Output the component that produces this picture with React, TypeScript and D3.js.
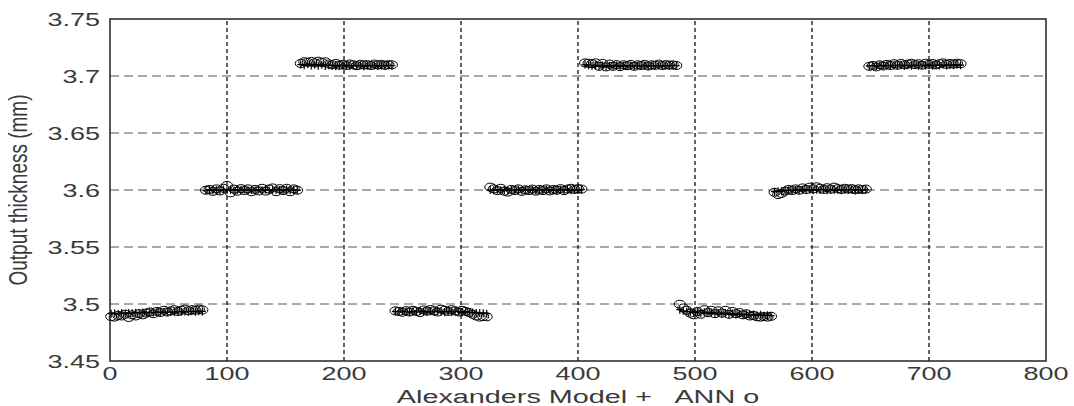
import React from 'react'
import * as d3 from 'd3'

// tick values
const xTicks = [0, 100, 200, 300, 400, 500, 600, 700, 800]
const yTicks = [3.45, 3.5, 3.55, 3.6, 3.65, 3.7, 3.75]

const blockStarts = [1, 82, 163, 244, 325, 406, 487, 568, 649]
const sampleOffsets = [0, 3, 6, 9, 12, 15, 18, 21, 24, 27, 30, 33, 36, 39, 42, 45, 48, 51, 54, 57, 60, 63, 66, 69, 72, 75, 78]

const modelB1 = [3.4915, 3.4918, 3.4912, 3.492, 3.4917, 3.4922, 3.4919, 3.4924, 3.4921, 3.4925, 3.4923, 3.4927, 3.4925, 3.4929, 3.4926, 3.493, 3.4928, 3.4932, 3.4929, 3.4933, 3.4931, 3.4934, 3.4932, 3.4936, 3.4933, 3.4937, 3.4935]
const annB1 = [3.489, 3.4885, 3.49, 3.4895, 3.491, 3.4882, 3.4905, 3.4895, 3.4915, 3.4905, 3.492, 3.493, 3.4915, 3.4935, 3.4925, 3.4945, 3.493, 3.494, 3.495, 3.4935, 3.4945, 3.4955, 3.494, 3.495, 3.4945, 3.4955, 3.4948]
const modelB2 = [3.5995, 3.6003, 3.5997, 3.6001, 3.5994, 3.6004, 3.5998, 3.6002, 3.5996, 3.6003, 3.5999, 3.6005, 3.5997, 3.6001, 3.5995, 3.6004, 3.5998, 3.6002, 3.5996, 3.6003, 3.5999, 3.6001, 3.5995, 3.6004, 3.5998, 3.6002, 3.5997]
const annB2 = [3.5998, 3.6005, 3.5988, 3.601, 3.5992, 3.6015, 3.604, 3.5975, 3.6008, 3.599, 3.6012, 3.5995, 3.601, 3.5985, 3.6005, 3.5992, 3.6015, 3.599, 3.6008, 3.6018, 3.5985, 3.6012, 3.5995, 3.6015, 3.5985, 3.601, 3.5998]
const modelB3 = [3.71, 3.7095, 3.7105, 3.7092, 3.71, 3.709, 3.7098, 3.7088, 3.7095, 3.709, 3.7086, 3.7093, 3.7089, 3.7095, 3.7087, 3.7092, 3.7088, 3.7094, 3.7086, 3.7091, 3.7089, 3.7093, 3.7087, 3.7092, 3.7088, 3.7094, 3.709]
const annB3 = [3.711, 3.7125, 3.712, 3.7128, 3.7115, 3.713, 3.7118, 3.7125, 3.7105, 3.7098, 3.711, 3.7095, 3.7102, 3.7092, 3.7105, 3.7098, 3.709, 3.7103, 3.7096, 3.71, 3.7092, 3.7105, 3.7097, 3.7102, 3.7094, 3.71, 3.7098]
const modelB4 = [3.4935, 3.493, 3.4937, 3.4932, 3.4928, 3.4935, 3.493, 3.4938, 3.4933, 3.4929, 3.4936, 3.4931, 3.4938, 3.4933, 3.4928, 3.4935, 3.493, 3.4937, 3.4932, 3.4927, 3.4933, 3.4928, 3.4925, 3.4922, 3.492, 3.4918, 3.4915]
const annB4 = [3.494, 3.4935, 3.4928, 3.4942, 3.493, 3.4945, 3.4935, 3.4925, 3.4948, 3.4938, 3.4952, 3.494, 3.493, 3.4955, 3.4945, 3.4935, 3.495, 3.494, 3.493, 3.4945, 3.4935, 3.4925, 3.491, 3.4895, 3.4885, 3.489, 3.4888]
const modelB5 = [3.6002, 3.5997, 3.6003, 3.5996, 3.6001, 3.5995, 3.6002, 3.5998, 3.6004, 3.5996, 3.6001, 3.5997, 3.6003, 3.5995, 3.6002, 3.5998, 3.6003, 3.5997, 3.6001, 3.5996, 3.6002, 3.5998, 3.6004, 3.5997, 3.6002, 3.5999, 3.6003]
const annB5 = [3.6025, 3.601, 3.5995, 3.6015, 3.599, 3.5982, 3.6005, 3.5995, 3.601, 3.5988, 3.6002, 3.5995, 3.6008, 3.599, 3.6005, 3.5995, 3.601, 3.5992, 3.6005, 3.5998, 3.6012, 3.5995, 3.6008, 3.6015, 3.6005, 3.6012, 3.6008]
const modelB6 = [3.71, 3.7095, 3.709, 3.7094, 3.7086, 3.7092, 3.7085, 3.709, 3.7087, 3.7093, 3.7085, 3.7091, 3.7087, 3.7092, 3.7086, 3.709, 3.7088, 3.7093, 3.7086, 3.7091, 3.7088, 3.7092, 3.7087, 3.7091, 3.7089, 3.7093, 3.709]
const annB6 = [3.7115, 3.7112, 3.7108, 3.7115, 3.7085, 3.711, 3.708, 3.7105, 3.7085, 3.71, 3.7082, 3.7098, 3.709, 3.7102, 3.7085, 3.7098, 3.7092, 3.7102, 3.7088, 3.7098, 3.7094, 3.7104, 3.7092, 3.71, 3.7095, 3.7098, 3.7092]
const modelB7 = [3.495, 3.494, 3.4935, 3.493, 3.4925, 3.4932, 3.4922, 3.4928, 3.4918, 3.4925, 3.4915, 3.4922, 3.4913, 3.492, 3.491, 3.4916, 3.4908, 3.4913, 3.4905, 3.491, 3.4903, 3.4907, 3.49, 3.4905, 3.4898, 3.4902, 3.4898]
const annB7 = [3.4998, 3.4965, 3.4945, 3.492, 3.4905, 3.4935, 3.491, 3.495, 3.4925, 3.4945, 3.4915, 3.494, 3.492, 3.4945, 3.491, 3.4935, 3.4915, 3.4925, 3.4905, 3.4915, 3.4895, 3.49, 3.4888, 3.4885, 3.489, 3.4885, 3.4892]
const modelB8 = [3.5985, 3.599, 3.5988, 3.5995, 3.5998, 3.5996, 3.6001, 3.5998, 3.6003, 3.5999, 3.6002, 3.5997, 3.6003, 3.6, 3.6004, 3.5998, 3.6002, 3.5999, 3.6003, 3.5998, 3.6002, 3.6, 3.6003, 3.5998, 3.6001, 3.5999, 3.6002]
const annB8 = [3.598, 3.596, 3.597, 3.599, 3.6005, 3.5995, 3.601, 3.5998, 3.6018, 3.6005, 3.6025, 3.601, 3.6028, 3.6015, 3.6005, 3.602, 3.6008, 3.6025, 3.6012, 3.6005, 3.6015, 3.6008, 3.6012, 3.6002, 3.601, 3.6005, 3.6008]
const modelB9 = [3.7088, 3.7092, 3.7087, 3.7093, 3.7089, 3.7094, 3.7088, 3.7093, 3.709, 3.7095, 3.7089, 3.7094, 3.7091, 3.7096, 3.709, 3.7095, 3.7092, 3.7097, 3.7091, 3.7096, 3.7093, 3.7098, 3.7092, 3.7097, 3.7094, 3.7099, 3.7095]
const annB9 = [3.7085, 3.7092, 3.708, 3.7098, 3.7088, 3.7102, 3.7092, 3.7108, 3.7095, 3.711, 3.7098, 3.7105, 3.7112, 3.71, 3.7108, 3.7095, 3.7112, 3.7102, 3.711, 3.7098, 3.7108, 3.7115, 3.7102, 3.711, 3.7105, 3.7112, 3.7108]

const modelBlocks = [modelB1, modelB2, modelB3, modelB4, modelB5, modelB6, modelB7, modelB8, modelB9]
const annBlocks = [annB1, annB2, annB3, annB4, annB5, annB6, annB7, annB8, annB9]

const W = 1074
const H = 406
const margin = { top: 19, right: 28, bottom: 45, left: 110 }
const font = '"Liberation Sans", Arial, sans-serif'
const stretch = 1.5 // the source image is stretched sideways
const ink = '#3a3a3a'

const toPoints = (blocks: number[][]) =>
  blocks.flatMap((vals, b) => vals.map((v, i) => ({ x: blockStarts[b] + sampleOffsets[i], y: v })))

const modelPts = toPoints(modelBlocks)
const annPts = toPoints(annBlocks)

export default function App () {
  const x = d3.scaleLinear().domain([0, 800]).range([margin.left, W - margin.right])
  const y = d3.scaleLinear().domain([3.45, 3.75]).range([H - margin.bottom, margin.top])
  const x0 = x(0), x1 = x(800), y0 = y(3.45), y1 = y(3.75)

  return (
    <svg width={W} height={H} style={{ position: 'absolute', left: 0, top: 0, background: '#fff' }}>
      {/* grid */}
      {yTicks.slice(1, -1).map(t => (
        <line key={'gy' + t} x1={x0} x2={x1} y1={y(t)} y2={y(t)} stroke="#555" strokeWidth={1} strokeDasharray="9,5" />
      ))}
      {xTicks.slice(1, -1).map(t => (
        <line key={'gx' + t} x1={x(t)} x2={x(t)} y1={y0} y2={y1} stroke="#111" strokeWidth={1.3} strokeDasharray="4,3" />
      ))}

      {/* ANN o */}
      {annPts.map((p, i) => (
        <ellipse key={'a' + i} cx={x(p.x)} cy={y(p.y)} rx={5.5} ry={4} fill="none" stroke="#000" strokeWidth={1} />
      ))}
      {/* Alexanders Model + */}
      {modelPts.map((p, i) => {
        const cx = x(p.x), cy = y(p.y)
        return (
          <path key={'m' + i} d={`M${cx - 3.5},${cy}H${cx + 3.5}M${cx},${cy - 4}V${cy + 4}`} stroke="#000" strokeWidth={1.2} fill="none" />
        )
      })}

      {/* box */}
      <rect x={x0} y={y1} width={x1 - x0} height={y0 - y1} fill="none" stroke="#222" strokeWidth={1.5} />

      {/* tick labels */}
      {yTicks.map(t => (
        <text key={'ty' + t} transform={`translate(${x0 - 10},${y(t) + 6.5}) scale(${stretch},1)`} textAnchor="end"
          fontFamily={font} fontSize={18} fill={ink}>{d3.format('')(t)}</text>
      ))}
      {xTicks.map(t => (
        <text key={'tx' + t} transform={`translate(${x(t)},${y0 + 19}) scale(${stretch},1)`} textAnchor="middle"
          fontFamily={font} fontSize={18} fill={ink}>{t}</text>
      ))}

      {/* axis titles */}
      <text transform={`translate(${(x0 + x1) / 2},${H - 3}) scale(1.6,1)`} textAnchor="middle"
        fontFamily={font} fontSize={18} fill={ink} style={{ whiteSpace: 'pre' }}>{'Alexanders Model +   ANN o'}</text>
      <text transform={`translate(${27},${(y0 + y1) / 2}) scale(1.35,1) rotate(-90)`} textAnchor="middle"
        fontFamily={font} fontSize={19} fill={ink}>Output thickness (mm)</text>
    </svg>
  )
}
